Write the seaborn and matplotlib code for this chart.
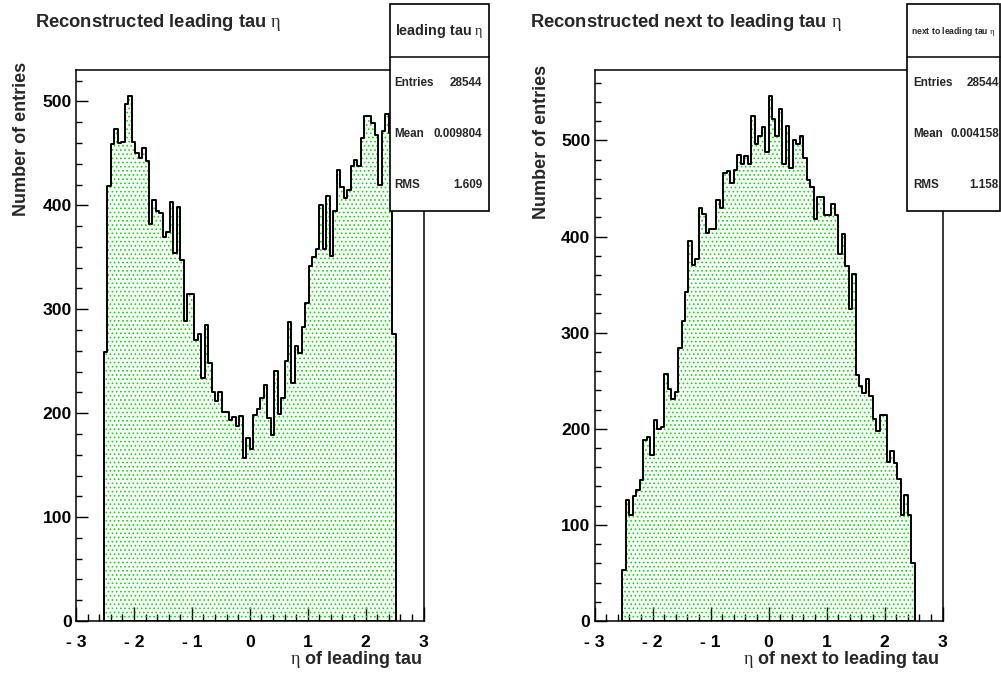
import numpy as np
import pandas as pd
import matplotlib
matplotlib.use("Agg")
import matplotlib.pyplot as plt
import seaborn as sns
from matplotlib.ticker import FixedLocator, FixedFormatter, MultipleLocator
from matplotlib.patches import Rectangle
from matplotlib.lines import Line2D

# ---- binning: 0.06-wide bins covering the tracker acceptance ----
eta_lo, eta_hi, bin_width = -2.52, 2.52, 0.06

# ---- per-bin entries, leading tau eta ----
leading_counts = [
    259, 419, 459, 473, 460, 461, 498, 505, 461, 450,
    446, 455, 443, 382, 405, 395, 393, 370, 374, 403,
    354, 398, 347, 289, 315, 315, 270, 276, 234, 285,
    248, 220, 212, 220, 201, 201, 193, 196, 188, 197,
    157, 176, 166, 198, 204, 215, 227, 195, 179, 241,
    199, 215, 250, 288, 229, 265, 258, 283, 306, 342,
    350, 358, 400, 358, 409, 351, 395, 434, 418, 407,
    415, 438, 444, 438, 465, 486, 486, 479, 468, 420,
    472, 488, 470, 276,
]

# ---- per-bin entries, next-to-leading tau eta ----
subleading_counts = [
    53, 126, 110, 130, 136, 147, 188, 191, 173, 209,
    200, 202, 257, 241, 231, 238, 284, 312, 342, 395,
    370, 377, 430, 423, 404, 408, 408, 438, 430, 466,
    468, 456, 469, 485, 476, 484, 476, 525, 496, 505,
    514, 488, 546, 522, 505, 533, 475, 515, 471, 500,
    496, 505, 482, 459, 452, 418, 441, 441, 422, 422,
    434, 422, 382, 403, 369, 325, 361, 256, 244, 237,
    252, 234, 210, 198, 214, 214, 165, 177, 164, 148,
    110, 131, 110, 60,
]

# ---- axis ticks and labels ----
x_tick_values = [-3, -2, -1, 0, 1, 2, 3]
x_tick_labels = ["- 3", "- 2", "- 1", "0", "1", "2", "3"]

# ---- statistics boxes ----
leading_stats = [("Entries", "28544"), ("Mean", "0.009804"), ("RMS", "1.609")]
subleading_stats = [("Entries", "28544"), ("Mean", "0.004158"), ("RMS", "1.158")]

titles = ["Reconstructed leading tau $\\eta$",
          "Reconstructed next to leading tau $\\eta$"]
x_titles = ["$\\eta$ of leading tau", "$\\eta$ of next to leading tau"]
box_titles = ["leading tau $\\eta$", "next to leading tau $\\eta$"]
y_title = "Number of entries"

# ---- style ----
sns.set_theme(style="white")
plt.rcParams["font.family"] = ["Liberation Sans", "DejaVu Sans"]
plt.rcParams["mathtext.fontset"] = "custom"
plt.rcParams["mathtext.rm"] = "Liberation Serif"
plt.rcParams["mathtext.it"] = "Liberation Serif:italic"
plt.rcParams["mathtext.bf"] = "Liberation Serif:bold"
plt.rcParams["mathtext.default"] = "rm"
plt.rcParams["hatch.linewidth"] = 0.7
plt.rcParams["axes.linewidth"] = 1.1

W, H = 1001, 677
fig = plt.figure(figsize=(W / 100, H / 100), dpi=100)
fig.patch.set_facecolor("white")


def fx(px):
    return px / W


def fy(py):
    return 1 - py / H


edges = np.round(np.arange(eta_lo, eta_hi + bin_width / 2, bin_width), 3)
centers = (edges[:-1] + edges[1:]) / 2
edge_list = [float(e) for e in edges]

LABEL_SIZE = 12.6


def draw_panel(left_px, right_px, counts):
    ax = fig.add_axes([fx(left_px), fy(621), fx(right_px - left_px), (621 - 70) / H])
    df = pd.DataFrame({"eta": centers, "entries": np.asarray(counts, dtype=float)})

    # dotted green fill
    sns.histplot(data=df, x="eta", weights="entries", bins=edge_list,
                 element="step", fill=True, ax=ax, color="#00ff00")
    fill = ax.collections[-1]
    fill.set_alpha(None)
    fill.set_facecolor("none")
    fill.set_edgecolor("#00e600")
    fill.set_hatch("....")
    fill.set_linewidth(0)

    # black outline
    sns.histplot(data=df, x="eta", weights="entries", bins=edge_list,
                 element="step", fill=True, ax=ax, color="black")
    outline = ax.collections[-1]
    outline.set_alpha(None)
    outline.set_facecolor("none")
    outline.set_edgecolor("black")
    outline.set_linewidth(1.4)

    ax.set_xlim(-3, 3)
    ax.set_ylim(0, 1.05 * max(counts))
    ax.set_xlabel("")
    ax.set_ylabel("")
    ax.xaxis.set_major_locator(FixedLocator(x_tick_values))
    ax.xaxis.set_major_formatter(FixedFormatter(x_tick_labels))
    ax.xaxis.set_minor_locator(MultipleLocator(0.2))
    ax.yaxis.set_major_locator(MultipleLocator(100))
    ax.yaxis.set_minor_locator(MultipleLocator(20))
    ax.tick_params(axis="x", which="major", direction="in", length=10, width=1,
                   pad=10, labelsize=LABEL_SIZE, bottom=True, top=False, colors="black")
    ax.tick_params(axis="x", which="minor", direction="in", length=4.8, width=1,
                   bottom=True, top=False, colors="black")
    ax.tick_params(axis="y", which="major", direction="in", length=8.8, width=1,
                   pad=3, labelsize=LABEL_SIZE, left=True, right=False, colors="black")
    ax.tick_params(axis="y", which="minor", direction="in", length=4.5, width=1,
                   left=True, right=False, colors="black")
    for lab in ax.get_xticklabels() + ax.get_yticklabels():
        lab.set_fontweight("bold")
    for s in ax.spines.values():
        s.set_color("black")
        s.set_linewidth(1.1)
    ax.set_facecolor("white")
    return ax


ax_l = draw_panel(76, 423.5, leading_counts)
ax_r = draw_panel(594.5, 942.5, subleading_counts)

# titles
fig.text(fx(35), fy(27), titles[0], fontsize=13.2, fontweight="bold", va="baseline", ha="left")
fig.text(fx(530), fy(27), titles[1], fontsize=13.2, fontweight="bold", va="baseline", ha="left")

# axis titles
fig.text(fx(22), fy(62), y_title, rotation=90, fontsize=13, fontweight="bold", va="top", ha="center")
fig.text(fx(541), fy(65), y_title, rotation=90, fontsize=13, fontweight="bold", va="top", ha="center")
fig.text(fx(422), fy(664), x_titles[0], fontsize=13, fontweight="bold", va="baseline", ha="right")
fig.text(fx(939), fy(664), x_titles[1], fontsize=13, fontweight="bold", va="baseline", ha="right")


def stat_box(x0, x1, title, title_size, stats, label_x, value_x):
    y0, y1, ysep = 4, 211, 57
    fig.add_artist(Rectangle((fx(x0), fy(y1)), fx(x1 - x0), (y1 - y0) / H,
                             transform=fig.transFigure, facecolor="white",
                             edgecolor="black", linewidth=1.2, zorder=10))
    fig.add_artist(Line2D([fx(x0), fx(x1)], [fy(ysep), fy(ysep)],
                          transform=fig.transFigure, color="black", linewidth=1.1, zorder=11))
    fig.text(fx((x0 + x1) / 2), fy(31), title, fontsize=title_size, fontweight="bold",
             ha="center", va="center", zorder=12)
    for (name, val), yy in zip(stats, [83, 134, 185]):
        fig.text(fx(label_x), fy(yy), name, fontsize=8.4, fontweight="bold",
                 ha="left", va="center", zorder=12)
        fig.text(fx(value_x), fy(yy), val, fontsize=8.4, fontweight="bold",
                 ha="right", va="center", zorder=12)


stat_box(390, 489, box_titles[0], 10.4, leading_stats, 394, 482)
stat_box(907, 1000.4, box_titles[1], 6.2, subleading_stats, 913, 999)

fig.savefig("out.png", dpi=100, facecolor="white")
